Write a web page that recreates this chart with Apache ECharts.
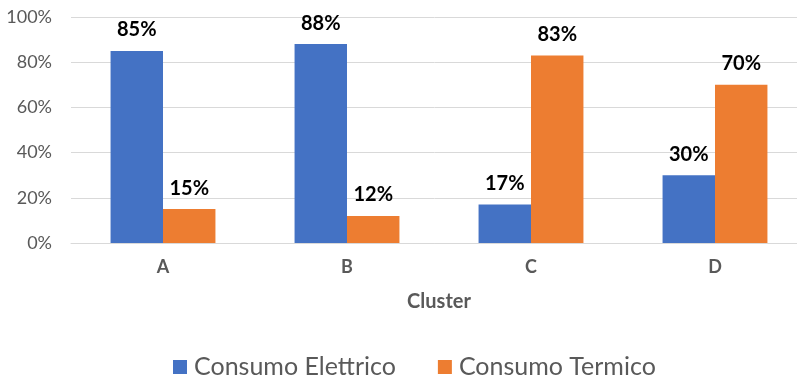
<!DOCTYPE html>
<html>
<head>
<meta charset="utf-8">
<script src="https://cdn.jsdelivr.net/npm/echarts@6/dist/echarts.min.js"></script>
<style>
  html, body { margin: 0; padding: 0; background: #fff; }
  #chart { width: 797px; height: 379px; }
</style>
</head>
<body>
<div id="chart"></div>
<script>
// Share of energy consumption by cluster
const clusters = ['A', 'B', 'C', 'D'];
const consumoElettrico = [85, 88, 17, 30];
const consumoTermico = [15, 12, 83, 70];
const yTicks = [0, 20, 40, 60, 80, 100];

const FONT = 'Lato, "Open Sans", sans-serif';
const GREY = '#595959';

const chart = echarts.init(document.getElementById('chart'));

const labelStyle = {
  show: true,
  position: 'top',
  distance: 11,
  formatter: p => p.value + '%',
  fontFamily: FONT,
  fontWeight: 'bold',
  fontSize: 20,
  color: '#000'
};

chart.setOption({
  animation: false,
  textStyle: { fontFamily: FONT },
  // plot area runs slightly past the right edge of the canvas
  grid: {
    left: 71, width: 736, top: 17, height: 226,
    containLabel: false,
    outerBoundsMode: 'none'
  },
  xAxis: {
    type: 'category',
    data: clusters,
    name: 'Cluster',
    nameLocation: 'middle',
    nameGap: 49,
    nameTextStyle: { fontFamily: FONT, fontWeight: 'bold', fontSize: 20, color: GREY },
    axisLine: { lineStyle: { color: '#D9D9D9', width: 1 } },
    axisTick: { show: false },
    axisLabel: { margin: 15, fontFamily: FONT, fontWeight: 'bold', fontSize: 18, color: GREY }
  },
  yAxis: {
    type: 'value',
    min: yTicks[0],
    max: yTicks[yTicks.length - 1],
    interval: yTicks[1] - yTicks[0],
    axisLine: { show: false },
    axisTick: { show: false },
    splitLine: { lineStyle: { color: '#D9D9D9', width: 1 } },
    axisLabel: { margin: 19, fontFamily: FONT, fontSize: 18, color: GREY, formatter: v => v + '%' }
  },
  legend: {
    top: 354,
    left: 173,
    padding: 0,
    itemWidth: 14,
    itemHeight: 14,
    itemGap: 42,
    icon: 'rect',
    textStyle: { fontFamily: FONT, fontSize: 25, lineHeight: 26, color: GREY, padding: [0, 0, 0, 2] },
    data: ['Consumo Elettrico', 'Consumo Termico']
  },
  series: [
    {
      name: 'Consumo Elettrico',
      type: 'bar',
      data: consumoElettrico,
      barGap: '0%',
      barCategoryGap: '43%',
      itemStyle: { color: '#4472C4' },
      label: labelStyle
    },
    {
      name: 'Consumo Termico',
      type: 'bar',
      data: consumoTermico,
      barGap: '0%',
      barCategoryGap: '43%',
      itemStyle: { color: '#ED7D31' },
      label: labelStyle
    }
  ]
});
</script>
</body>
</html>
